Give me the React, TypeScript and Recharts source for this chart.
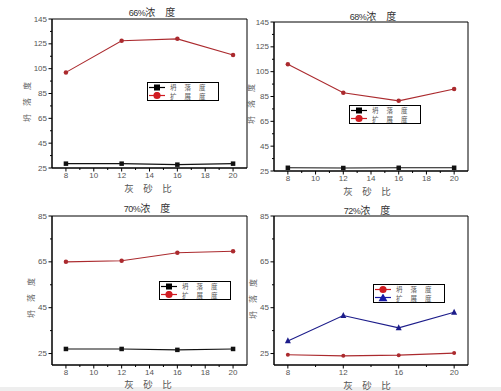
import React from 'react';
import { LineChart, Line, XAxis, YAxis, ReferenceArea, Legend } from 'recharts';

// ---- data ----
const ratios = [8, 12, 16, 20];
const slump66 = [28.5, 28.5, 27.7, 28.5];
const spread66 = [102, 127.5, 129, 116];
const slump68 = [27.6, 27.4, 27.6, 27.6];
const spread68 = [111, 88, 81.5, 91];
const slump70 = [27, 27, 26.6, 27];
const spread70 = [65, 65.5, 69, 69.6];
const slump72 = [24.5, 24, 24.3, 25.2];
const spread72 = [30.5, 41.6, 36.2, 43];

const titles = ['66%', '68%', '70%', '72%'];
const seriesNames = ['坍落度', '扩展度'];
const xAxisTitle = '灰　砂　比';
const yAxisTitle = '坍　落　度';

const xMajorFull = [8, 10, 12, 14, 16, 18, 20];
const xMinorFull = [9, 11, 13, 15, 17, 19];
const xMajorSparse = [8, 12, 16, 20];
const xMinorSparse = [10, 14, 18];
const yMajorHigh = [25, 45, 65, 85, 105, 125, 145];
const yMinorHigh = [35, 55, 75, 95, 115, 135];
const yMajorLow = [25, 45, 65, 85];
const yMinorLow = [35, 55, 75];

const RED = '#ab2a2e';
const RED_BRIGHT = '#d01c22';
const BLACK = '#111';
const BLUE = '#1c1c8a';

const build = (a: number[], b: number[]) => ratios.map((x, i) => ({ x, s1: a[i], s2: b[i] }));

type Shape = 'square' | 'circle' | 'triangle';

const makeDot = (shape: Shape, color: string, size: number) => (props: any) => {
  const { cx, cy, index } = props;
  if (cx == null || cy == null) return <g key={`n${index}`} />;
  if (shape === 'square')
    return <rect key={`d${index}`} x={cx - size / 2} y={cy - size / 2} width={size} height={size} fill={color} />;
  if (shape === 'triangle')
    return (
      <polygon
        key={`d${index}`}
        points={`${cx},${cy - size * 0.6} ${cx - size / 2},${cy + size * 0.4} ${cx + size / 2},${cy + size * 0.4}`}
        fill={color}
      />
    );
  return <circle key={`d${index}`} cx={cx} cy={cy} r={size / 2} fill={color} />;
};

const LegendMarker = ({ shape, color }: { shape: Shape; color: string }) => (
  <svg width={21} height={9} style={{ display: 'block', flex: 'none' }}>
    <line x1={1} y1={4.5} x2={17} y2={4.5} stroke={color} strokeWidth={1.2} />
    {shape === 'square' && <rect x={6} y={1.5} width={6} height={6} fill={color} />}
    {shape === 'circle' && <circle cx={9} cy={4.5} r={3.6} fill={color} />}
    {shape === 'triangle' && <polygon points="9,0.5 4.5,8.3 13.5,8.3" fill={color} />}
  </svg>
);

type Series = { key: string; name: string; color: string; legendColor: string; shape: Shape; dotSize: number };

const LegendBox = ({ series }: { series: Series[] }) => (
  <div
    style={{
      width: 72,
      height: 19,
      boxSizing: 'border-box',
      border: '1px solid #000',
      background: '#fff',
      display: 'flex',
      flexDirection: 'column',
      justifyContent: 'center',
      overflow: 'hidden',
    }}
  >
    {series.map((s) => (
      <div key={s.key} style={{ display: 'flex', alignItems: 'center', height: 8.5, overflow: 'hidden' }}>
        <LegendMarker shape={s.shape} color={s.legendColor} />
        <span
          style={{
            marginLeft: 1,
            fontSize: 6.5,
            lineHeight: '8px',
            height: 8,
            display: 'inline-block',
            letterSpacing: 8,
            color: '#555',
            fontFamily: '"Noto Sans CJK SC", sans-serif',
            whiteSpace: 'nowrap',
          }}
        >
          {s.name}
        </span>
      </div>
    ))}
  </div>
);

const YTick = (majors: number[]) => (props: any) => {
  const { x, y, payload } = props;
  const major = majors.includes(payload.value);
  return (
    <g>
      <line x1={x - (major ? 3.5 : 2)} y1={y} x2={x} y2={y} stroke="#000" strokeWidth={1} />
      {major && (
        <text x={x - 5} y={y} textAnchor="end" dominantBaseline="central" fontSize={8} fill="#555" fontFamily="Liberation Sans, Arial, sans-serif">
          {payload.value}
        </text>
      )}
    </g>
  );
};

const XTick = (majors: number[]) => (props: any) => {
  const { x, y, payload } = props;
  const major = majors.includes(payload.value);
  return (
    <g>
      <line x1={x} y1={y} x2={x} y2={y + (major ? 3.5 : 2)} stroke="#000" strokeWidth={1} />
      {major && (
        <text x={x} y={y + 7} textAnchor="middle" dominantBaseline="central" fontSize={8} fill="#555" fontFamily="Liberation Sans, Arial, sans-serif">
          {payload.value}
        </text>
      )}
    </g>
  );
};

type PanelCfg = {
  left: number;
  top: number;
  width: number;
  height: number;
  margin: { top: number; right: number; bottom: number; left: number };
  yWidth: number;
  yDomain: [number, number];
  yMajor: number[];
  yMinor: number[];
  xMajor: number[];
  xMinor: number[];
  data: { x: number; s1: number; s2: number }[];
  series: Series[];
  legend: { left: number; top: number };
};

const blackSlump: Series = { key: 's1', name: seriesNames[0], color: BLACK, legendColor: '#000', shape: 'square', dotSize: 4.5 };
const redSpread: Series = { key: 's2', name: seriesNames[1], color: RED, legendColor: RED_BRIGHT, shape: 'circle', dotSize: 4.5 };
const redSlump: Series = { key: 's1', name: seriesNames[0], color: RED, legendColor: RED_BRIGHT, shape: 'circle', dotSize: 4 };
const blueSpread: Series = { key: 's2', name: seriesNames[1], color: BLUE, legendColor: '#1a1aa6', shape: 'triangle', dotSize: 6 };

const panels: PanelCfg[] = [
  {
    left: 0, top: 0, width: 250, height: 195,
    margin: { top: 19, right: 3, bottom: 7, left: 22 }, yWidth: 30,
    yDomain: [25, 145], yMajor: yMajorHigh, yMinor: yMinorHigh,
    xMajor: xMajorFull, xMinor: xMinorFull,
    data: build(slump66, spread66), series: [blackSlump, redSpread],
    legend: { left: 147, top: 82 },
  },
  {
    left: 250, top: 0, width: 251, height: 195,
    margin: { top: 22, right: 33, bottom: 4, left: 4 }, yWidth: 20,
    yDomain: [25, 145], yMajor: yMajorHigh, yMinor: yMinorHigh,
    xMajor: xMajorFull, xMinor: xMinorFull,
    data: build(slump68, spread68), series: [blackSlump, redSpread],
    legend: { left: 99, top: 105 },
  },
  {
    left: 0, top: 195, width: 250, height: 196,
    margin: { top: 21, right: 3, bottom: 6, left: 22 }, yWidth: 30,
    yDomain: [20, 85], yMajor: yMajorLow, yMinor: yMinorLow,
    xMajor: xMajorFull, xMinor: xMinorFull,
    data: build(slump70, spread70), series: [blackSlump, redSpread],
    legend: { left: 159, top: 86 },
  },
  {
    left: 250, top: 195, width: 251, height: 196,
    margin: { top: 21, right: 33, bottom: 6, left: 4 }, yWidth: 20,
    yDomain: [20, 85], yMajor: yMajorLow, yMinor: yMinorLow,
    xMajor: xMajorSparse, xMinor: xMinorSparse,
    data: build(slump72, spread72), series: [redSlump, blueSpread],
    legend: { left: 123, top: 89 },
  },
];

const Panel = ({ cfg }: { cfg: PanelCfg }) => {
  const yTicks = [...cfg.yMajor, ...cfg.yMinor].sort((a, b) => a - b);
  const xTicks = [...cfg.xMajor, ...cfg.xMinor].sort((a, b) => a - b);
  return (
    <div style={{ position: 'absolute', left: cfg.left, top: cfg.top, width: cfg.width, height: cfg.height }}>
      <LineChart width={cfg.width} height={cfg.height} data={cfg.data} margin={cfg.margin}>
        <XAxis
          dataKey="x"
          type="number"
          domain={[7, 21]}
          ticks={xTicks}
          interval={0}
          height={20}
          tickSize={0}
          tickMargin={0}
          tickLine={false}
          axisLine={{ stroke: '#000', strokeWidth: 1 }}
          tick={XTick(cfg.xMajor)}
        />
        <YAxis
          type="number"
          domain={cfg.yDomain}
          ticks={yTicks}
          interval={0}
          width={cfg.yWidth}
          tickSize={0}
          tickMargin={0}
          tickLine={false}
          axisLine={{ stroke: '#000', strokeWidth: 1 }}
          tick={YTick(cfg.yMajor)}
        />
        <ReferenceArea x1={7} x2={21} y1={cfg.yDomain[0]} y2={cfg.yDomain[1]} fill="none" stroke="#000" strokeWidth={1} />
        {cfg.series.map((s) => (
          <Line
            key={s.key}
            dataKey={s.key}
            name={s.name}
            stroke={s.color}
            strokeWidth={1.1}
            dot={makeDot(s.shape, s.color, s.dotSize)}
            activeDot={false}
            isAnimationActive={false}
          />
        ))}
        <Legend
          layout="horizontal"
          verticalAlign="middle"
          align="center"
          wrapperStyle={{ left: cfg.legend.left, top: cfg.legend.top, width: 72, height: 19 }}
          content={() => <LegendBox series={cfg.series} />}
        />
      </LineChart>
    </div>
  );
};

const Txt = ({ x, y, size, color, rotate, children }: any) => (
  <div
    style={{
      position: 'absolute',
      left: x,
      top: y,
      transform: `translate(-50%, -50%)${rotate ? ' rotate(-90deg)' : ''}`,
      fontSize: size,
      lineHeight: 1,
      color,
      whiteSpace: 'nowrap',
      fontFamily: '"Liberation Sans", "Noto Sans CJK SC", sans-serif',
    }}
  >
    {children}
  </div>
);

const titlePos = [
  [152, 12],
  [373, 16],
  [147, 208],
  [367, 210],
];
const xLabelPos = [
  [148, 189],
  [367, 192],
  [148, 385],
  [367, 386],
];
const yLabelPos = [
  [27, 102],
  [251, 104],
  [31, 298],
  [253, 299],
];

export default function App() {
  return (
    <div style={{ position: 'absolute', left: 0, top: 0, width: 501, height: 391, background: '#fff', overflow: 'hidden' }}>
      <div style={{ position: 'absolute', left: 0, top: 387, width: 501, height: 4, background: '#eeeeee' }} />
      {panels.map((p, i) => (
        <Panel key={i} cfg={p} />
      ))}
      {titles.map((t, i) => (
        <Txt key={`t${i}`} x={titlePos[i][0]} y={titlePos[i][1]} size={10} color="#333">
          <span style={{ fontSize: 9, letterSpacing: -0.5 }}>{t}</span>
          <span style={{ fontFamily: '"Noto Sans CJK SC", sans-serif' }}>浓　度</span>
        </Txt>
      ))}
      {xLabelPos.map((pos, i) => (
        <Txt key={`x${i}`} x={pos[0]} y={pos[1]} size={9.5} color="#555">
          <span style={{ fontFamily: '"Noto Sans CJK SC", sans-serif' }}>{xAxisTitle}</span>
        </Txt>
      ))}
      {yLabelPos.map((pos, i) => (
        <Txt key={`y${i}`} x={pos[0]} y={pos[1]} size={8} color="#666" rotate>
          <span style={{ fontFamily: '"Noto Sans CJK SC", sans-serif' }}>{yAxisTitle}</span>
        </Txt>
      ))}
    </div>
  );
}
